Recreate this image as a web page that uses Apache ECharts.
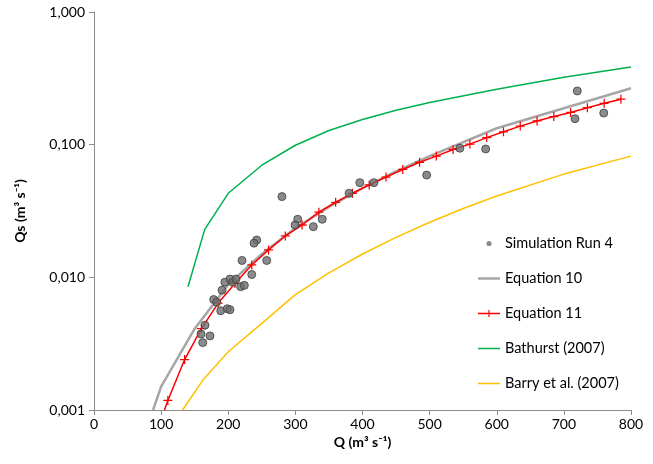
<!DOCTYPE html>
<html>
<head>
<meta charset="utf-8">
<script src="https://cdn.jsdelivr.net/npm/echarts@6/dist/echarts.min.js"></script>
<style>html,body{margin:0;padding:0;background:#fff}#c{width:653px;height:464px}</style>
</head>
<body>
<div id="c"></div>
<script>
// Simulation Run 4 (scatter)
const simQ  = [303.5, 299.5, 242.4, 238.4, 220.5, 257.3, 235, 195, 202.6, 206.6, 211.5, 218.5, 224, 190.7, 178.3, 182.8, 188.8, 198.6, 202.6, 165.4, 159.4, 172.8, 162, 280, 326.7, 340, 380, 396, 417, 495.6, 545, 583.5, 720, 716.6, 759.4];
const simQs = [0.0274, 0.0248, 0.0191, 0.0181, 0.0134, 0.0134, 0.0105, 0.0092, 0.0097, 0.0092, 0.0097, 0.0085, 0.0087, 0.0080, 0.0068, 0.0065, 0.0056, 0.0058, 0.0057, 0.00436, 0.00374, 0.00362, 0.00322, 0.0406, 0.0241, 0.0274, 0.043, 0.0517, 0.0517, 0.059, 0.094, 0.0928, 0.254, 0.157, 0.173];

// Equation 10
const eq10Q  = [88, 100, 150, 200, 250, 300, 350, 400, 450, 500, 600, 700, 800];
const eq10Qs = [0.001, 0.0015, 0.0041, 0.0088, 0.0150, 0.0235, 0.034, 0.047, 0.063, 0.082, 0.133, 0.188, 0.266];

// Equation 11
const eq11Q  = [105, 110, 135, 160, 185, 210, 235, 260, 285, 310, 335, 360, 385, 410, 435, 460, 485, 510, 535, 560, 585, 610, 635, 660, 685, 710, 735, 760, 785];
const eq11Qs = [0.001, 0.00118, 0.0024, 0.0041, 0.0064, 0.009, 0.0124, 0.0161, 0.0205, 0.0248, 0.031, 0.0368, 0.043, 0.0497, 0.057, 0.065, 0.0737, 0.082, 0.092, 0.101, 0.113, 0.125, 0.138, 0.151, 0.163, 0.175, 0.19, 0.205, 0.22];

// Bathurst (2007)
const bathQ  = [140, 165, 200, 250, 300, 350, 400, 450, 500, 600, 700, 800];
const bathQs = [0.0085, 0.023, 0.043, 0.070, 0.099, 0.128, 0.155, 0.182, 0.208, 0.262, 0.322, 0.385];

// Barry et al. (2007)
const barryQ  = [132, 163, 200, 250, 300, 350, 400, 450, 500, 550, 600, 700, 800];
const barryQs = [0.001, 0.0017, 0.00275, 0.0045, 0.0074, 0.0108, 0.015, 0.020, 0.026, 0.033, 0.041, 0.060, 0.082];

const xTicks = [0, 100, 200, 300, 400, 500, 600, 700, 800];
const yTickLabels = ['0,001', '0,010', '0,100', '1,000'];

function pairs(xs, ys) { return xs.map((x, i) => [x, ys[i]]); }

const FONT = 'Lato';
const plusPath = 'path://M4.3,0H5.7V4.3H10V5.7H5.7V10H4.3V5.7H0V4.3H4.3Z';
// legend icons in a 22 x 8 box (corner points keep the box size)
const BOX = 'M0,0L0,0ZM22,8L22,8Z';
const iconDot  = 'path://' + BOX + 'M13.6,4A2.6,2.6 0 1 1 8.4,4A2.6,2.6 0 1 1 13.6,4Z';
const iconThick = 'path://' + BOX + 'M0,2.75H22V5.25H0Z';
const iconThin  = 'path://' + BOX + 'M0,3.25H22V4.75H0Z';
const iconPlus  = 'path://' + BOX + 'M0,3.3H10.4V0.5H11.6V3.3H22V4.7H11.6V7.5H10.4V4.7H0Z';

const eq11Data = pairs(eq11Q, eq11Qs).map((p, i) => i === 0 ? {value: p, symbol: 'none'} : p);

const chart = echarts.init(document.getElementById('c'), null, {renderer: 'canvas'});
chart.setOption({
  animation: false,
  backgroundColor: '#fff',
  textStyle: {fontFamily: FONT},
  grid: {left: 94, right: 22, top: 12, bottom: 54, containLabel: false},
  xAxis: {
    type: 'value', min: 0, max: 800, interval: 100,
    name: 'Q (m³ s⁻¹)', nameLocation: 'middle', nameGap: 23,
    nameTextStyle: {fontFamily: FONT, fontSize: 14, fontWeight: 'bold', color: '#000'},
    axisLine: {show: true, lineStyle: {color: '#8c8c8c', width: 1}},
    axisTick: {show: true, length: 5, lineStyle: {color: '#8c8c8c'}},
    axisLabel: {fontFamily: FONT, fontSize: 14, color: '#000', margin: 7,
      formatter: v => xTicks.includes(v) ? String(v) : ''},
    splitLine: {show: false}
  },
  yAxis: {
    type: 'log', logBase: 10, min: 0.001, max: 1,
    name: 'Qs (m³ s⁻¹)', nameLocation: 'middle', nameGap: 67, nameRotate: 90,
    nameTextStyle: {fontFamily: FONT, fontSize: 14, fontWeight: 'bold', color: '#000'},
    axisLine: {show: true, lineStyle: {color: '#8c8c8c', width: 1}},
    axisTick: {show: true, length: 5, lineStyle: {color: '#8c8c8c'}},
    minorTick: {show: false},
    axisLabel: {fontFamily: FONT, fontSize: 14, color: '#000', margin: 9,
      formatter: v => {
        const k = Math.round(Math.log10(v)) + 3;
        return yTickLabels[k] !== undefined ? yTickLabels[k] : '';
      }},
    splitLine: {show: false}
  },
  legend: {
    orient: 'vertical', left: 473, top: 231, itemGap: 20,
    itemWidth: 22, itemHeight: 8,
    itemStyle: {borderWidth: 0},
    textStyle: {fontFamily: FONT, fontSize: 14.5, color: '#000'},
    data: [
      {name: 'Simulation Run 4', icon: iconDot, itemStyle: {color: '#6e6e6e', borderWidth: 0}},
      {name: 'Equation 10', icon: iconThick},
      {name: 'Equation 11', icon: iconPlus},
      {name: 'Bathurst (2007)', icon: iconThin},
      {name: 'Barry et al. (2007)', icon: iconThin}
    ]
  },
  series: [
    {
      name: 'Simulation Run 4', type: 'scatter', data: pairs(simQ, simQs),
      symbol: 'circle', symbolSize: 8, z: 5,
      itemStyle: {color: '#6e6e6e', borderColor: '#3f3f3f', borderWidth: 1}
    },
    {
      name: 'Equation 10', type: 'line', data: pairs(eq10Q, eq10Qs),
      showSymbol: false, symbol: 'none', clip: true,
      lineStyle: {color: '#a6a6a6', width: 2.5}, itemStyle: {color: '#a6a6a6'}
    },
    {
      name: 'Equation 11', type: 'line', data: eq11Data,
      symbol: plusPath, symbolSize: 9, showSymbol: true, clip: true,
      lineStyle: {color: '#ff0000', width: 1.5}, itemStyle: {color: '#ff0000'}
    },
    {
      name: 'Bathurst (2007)', type: 'line', data: pairs(bathQ, bathQs),
      symbol: 'none', clip: true,
      lineStyle: {color: '#00b050', width: 1.5}, itemStyle: {color: '#00b050'}
    },
    {
      name: 'Barry et al. (2007)', type: 'line', data: pairs(barryQ, barryQs),
      symbol: 'none', clip: true,
      lineStyle: {color: '#ffc000', width: 1.5}, itemStyle: {color: '#ffc000'}
    }
  ]
});
</script>
</body>
</html>
